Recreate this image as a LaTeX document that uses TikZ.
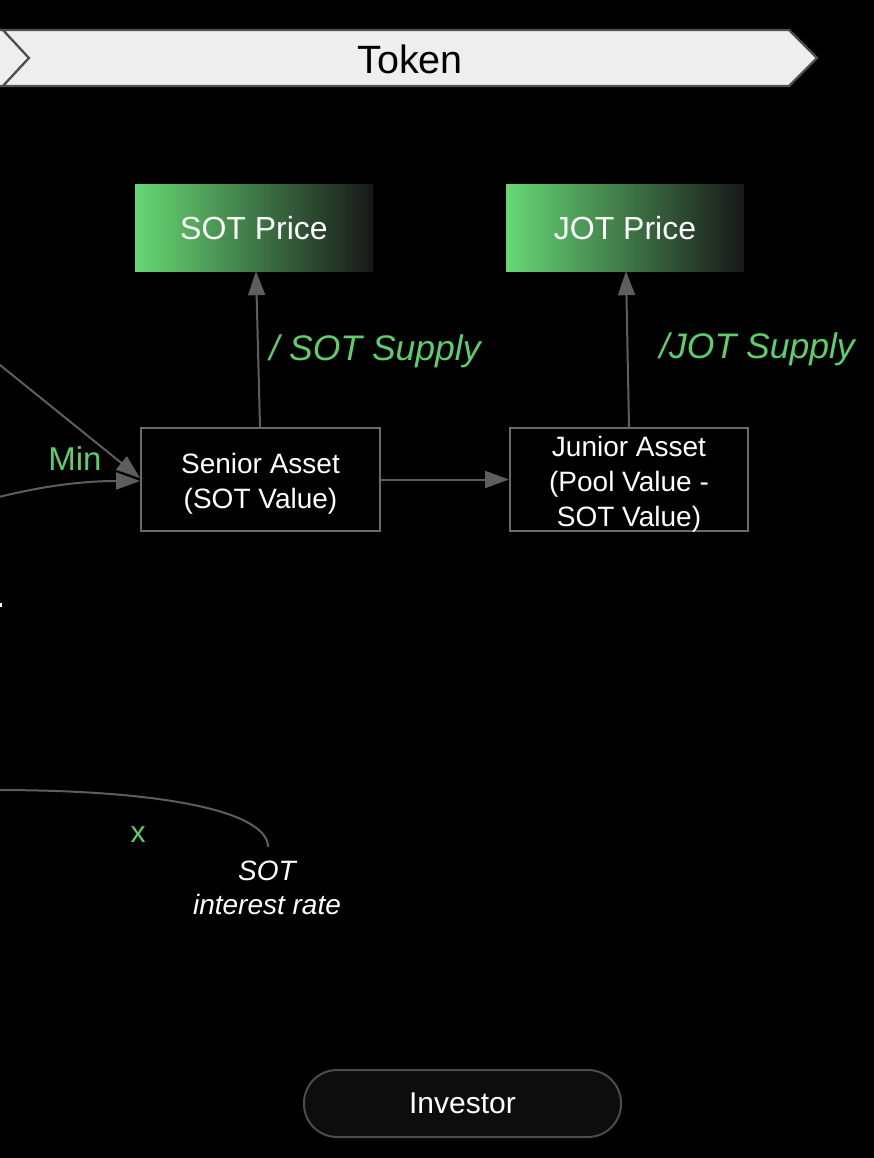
\documentclass[tikz,border=0pt]{standalone}
\usepackage{fontspec}
\setmainfont{Liberation Sans}
\usetikzlibrary{arrows.meta,calc}
\definecolor{lbl}{HTML}{5CCF6B}
\definecolor{edge}{HTML}{5E5E5E}
\definecolor{boxline}{HTML}{6A6A6A}
\definecolor{bannerfill}{HTML}{EEEEEE}
\definecolor{bannerline}{HTML}{505050}
\definecolor{gstart}{HTML}{66D874}
\definecolor{gend}{HTML}{181818}
\tikzset{
  conn/.style={draw=edge, line width=2pt, -{Triangle[length=24pt,width=17pt]}},
  plainconn/.style={draw=edge, line width=2pt},
  assetbox/.style={draw=boxline, line width=2pt, fill=black, minimum width=239pt, minimum height=103pt, inner sep=0pt},
  assettext/.style={text=white, align=center, font=\fontsize{28}{35}\selectfont, inner sep=0pt},
  pricebox/.style={minimum width=238pt, minimum height=86pt, text=white, font=\fontsize{32}{36}\selectfont, inner sep=0pt},
  greenlbl/.style={text=lbl, font=\fontsize{35.5}{40}\selectfont\itshape, inner sep=0pt},
  banner/.style={draw=bannerline, line width=2.2pt, fill=bannerfill, line join=miter}
}
\begin{document}
\begin{tikzpicture}[x=1pt,y=-1pt]
\useasboundingbox (0,0) rectangle (874,1158);
\fill[black] (0,0) rectangle (874,1158);
% banners
\path[banner] (-10,30) -- (3,30) -- (29,58) -- (3,86) -- (-10,86);
\path[banner] (3,30) -- (789,30) -- (817,58) -- (789,86) -- (3,86) -- (29,58) -- cycle;
\node[font=\fontsize{39.5}{44}\selectfont, text=black, inner sep=0pt] (token) at (410,59) {Token};
% price boxes
\shade[left color=gstart, right color=gend] (135,185) rectangle (373,271);
\node[pricebox] (sotp) at (254,228) {SOT Price};
\shade[left color=gstart, right color=gend] (506,185) rectangle (744,271);
\node[pricebox] (jotp) at (625,228) {JOT Price};
% asset boxes
\node[assetbox] (senior) at (260.5,479.5) {};
\node[assettext] (seniortxt) at (260.5,483.5) {Senior Asset\\(SOT Value)};
\node[assetbox, minimum width=238pt] (junior) at (629,479.5) {};
\node[assettext] (juniortxt) at (629,484) {Junior Asset\\(Pool Value -\\ SOT Value)};
% connectors
\draw[conn] ([xshift=-0.5pt]senior.north) -- ([xshift=2pt]sotp.south);
\draw[conn] (junior.north) -- ([xshift=1pt]jotp.south);
\draw[conn] (senior.east) -- (junior.west);
\coordinate (inA) at (-5,361);
\coordinate (inB) at (-5,498);
\draw[conn] (inA) -- ([yshift=1.5pt]senior.west);
\draw[conn] (inB) .. controls (50,484) and (90,481) .. ([yshift=-1.5pt]senior.west);
% labels
\node[greenlbl] (sotsup) at (375,351) {/ SOT Supply};
\node[greenlbl] (jotsup) at (757,349) {/JOT Supply};
\node[greenlbl, font=\fontsize{33}{40}\selectfont] (minl) at (75,459) {Min};
\node[greenlbl, font=\fontsize{30}{36}\selectfont] (xl) at (138,835) {x};
% interest rate
\node[text=white, font=\fontsize{28}{34}\selectfont\itshape, align=center, inner sep=0pt] (rate) at (267,888) {SOT\\interest rate};
\coordinate (inC) at (-5,790);
\coordinate (rateTop) at ($(rate.north)+(1,-14)$);
\draw[plainconn] (inC) .. controls (180,790) and (268,815) .. (rateTop);
% investor
\node[draw=black!70!white, line width=2pt, fill=black!95!white, rounded corners=33pt, minimum width=317pt, minimum height=67pt, text=white, font=\fontsize{30}{34}\selectfont, inner sep=0pt] (investor) at (462.5,1103.5) {Investor};
% tiny mark at left edge
\fill[white] (0,603) rectangle (1.5,607);
\end{tikzpicture}
\end{document}
